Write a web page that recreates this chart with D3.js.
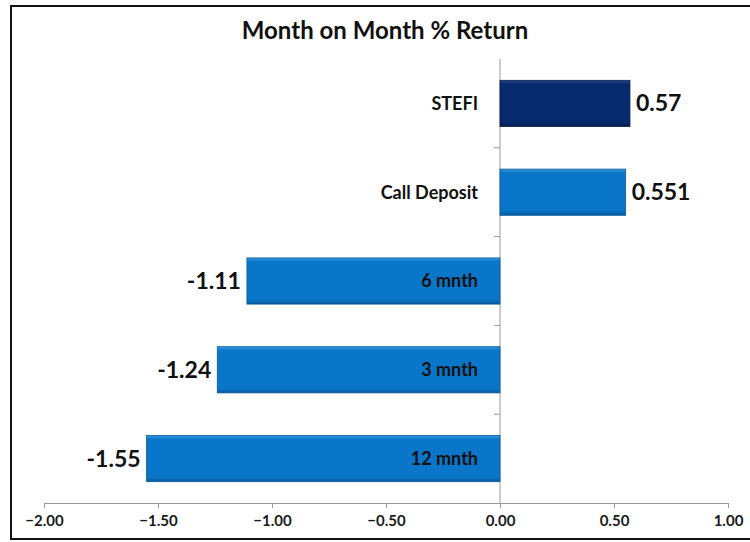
<!DOCTYPE html>
<html>
<head>
<meta charset="utf-8">
<script src="https://cdn.jsdelivr.net/npm/d3@7"></script>
<style>
  html, body { margin: 0; padding: 0; background: #fff; }
  svg { display: block; }
</style>
</head>
<body>
<div id="chart"></div>
<script>
  /* ── DATA ── */
  const categories = ['STEFI', 'Call Deposit', '6 mnth', '3 mnth', '12 mnth'];
  const values     = [0.57, 0.551, -1.11, -1.24, -1.55];
  const valueText  = ['0.57', '0.551', '-1.11', '-1.24', '-1.55'];
  const xTicks     = [-2, -1.5, -1, -0.5, 0, 0.5, 1];

  const W = 750, H = 542;
  const FONT = "Lato, 'Open Sans', sans-serif";

  const svg = d3.select('#chart').append('svg').attr('width', W).attr('height', H);

  /* gradients for the bevelled bar look */
  const defs = svg.append('defs');
  function grad(id, top, mid, bot) {
    const g = defs.append('linearGradient').attr('id', id)
      .attr('x1', 0).attr('y1', 0).attr('x2', 0).attr('y2', 1);
    g.append('stop').attr('offset', '0%').attr('stop-color', top);
    g.append('stop').attr('offset', '8%').attr('stop-color', mid);
    g.append('stop').attr('offset', '90%').attr('stop-color', mid);
    g.append('stop').attr('offset', '100%').attr('stop-color', bot);
  }
  grad('gNavy', '#2a4a8c', '#062a6c', '#041d4e');
  grad('gBlue', '#3b9be0', '#0a76c9', '#075a9c');

  /* frame */
  svg.append('rect').attr('x', 11).attr('y', 6).attr('width', W + 10).attr('height', 533)
    .attr('fill', 'none').attr('stroke', '#111').attr('stroke-width', 2);

  /* title */
  svg.append('text').attr('x', 385).attr('y', 39).attr('text-anchor', 'middle')
    .style('font-family', FONT).style('font-weight', 'bold').style('font-size', '24px')
    .attr('fill', '#111').text('Month on Month % Return');

  /* scales */
  const x = d3.scaleLinear().domain([-2, 1]).range([44, 728]);
  const y = d3.scaleBand().domain(categories).range([59, 503])
    .paddingInner(0.48).paddingOuter(0.24);

  /* x axis */
  svg.append('g').attr('transform', 'translate(0,503)')
    .call(d3.axisBottom(x).tickValues(xTicks).tickFormat(d3.format('.2f')).tickSizeOuter(0).tickSize(5).tickPadding(7))
    .call(ax => ax.select('.domain').attr('stroke', '#9a9a9a'))
    .call(ax => ax.selectAll('line').attr('stroke', '#9a9a9a'))
    .call(ax => ax.selectAll('text').style('font-family', FONT).style('font-weight', 'bold')
      .style('font-size', '15px').attr('fill', '#1a1a1a'));

  /* category axis at zero, ticks between bands */
  const bounds = categories.slice(1).map(c => y(c) - y.step() * y.paddingInner() / 2);
  const catAxis = svg.append('g');
  catAxis.append('line').attr('x1', x(0)).attr('x2', x(0)).attr('y1', 59).attr('y2', 503)
    .attr('stroke', '#9a9a9a');
  catAxis.selectAll('line.tk').data(bounds).join('line').attr('class', 'tk')
    .attr('x1', x(0) - 6).attr('x2', x(0)).attr('y1', d => d).attr('y2', d => d)
    .attr('stroke', '#9a9a9a');

  /* bars */
  const rows = categories.map((c, i) => ({ c, v: values[i], t: valueText[i] }));
  svg.append('g').selectAll('rect').data(rows).join('rect')
    .attr('x', d => x(Math.min(0, d.v)))
    .attr('y', d => y(d.c))
    .attr('width', d => Math.abs(x(d.v) - x(0)))
    .attr('height', y.bandwidth())
    .attr('fill', (d, i) => i === 0 ? 'url(#gNavy)' : 'url(#gBlue)')
    .attr('stroke', (d, i) => i === 0 ? '#041a48' : '#06599a')
    .attr('stroke-width', 0.8);

  /* category labels */
  svg.append('g').selectAll('text').data(rows).join('text')
    .attr('x', x(0) - 22).attr('y', d => y(d.c) + y.bandwidth() / 2)
    .attr('dy', '0.35em').attr('text-anchor', 'end')
    .style('font-family', FONT).style('font-weight', 'bold').style('font-size', '18px')
    .attr('fill', '#111').text(d => d.c);

  /* value labels */
  svg.append('g').selectAll('text').data(rows).join('text')
    .attr('x', d => d.v >= 0 ? x(d.v) + 6 : x(d.v) - 6)
    .attr('y', d => y(d.c) + y.bandwidth() / 2)
    .attr('dy', '0.35em').attr('text-anchor', d => d.v >= 0 ? 'start' : 'end')
    .style('font-family', FONT).style('font-weight', 'bold').style('font-size', '23px')
    .attr('fill', '#111').text(d => d.t);
</script>
</body>
</html>
